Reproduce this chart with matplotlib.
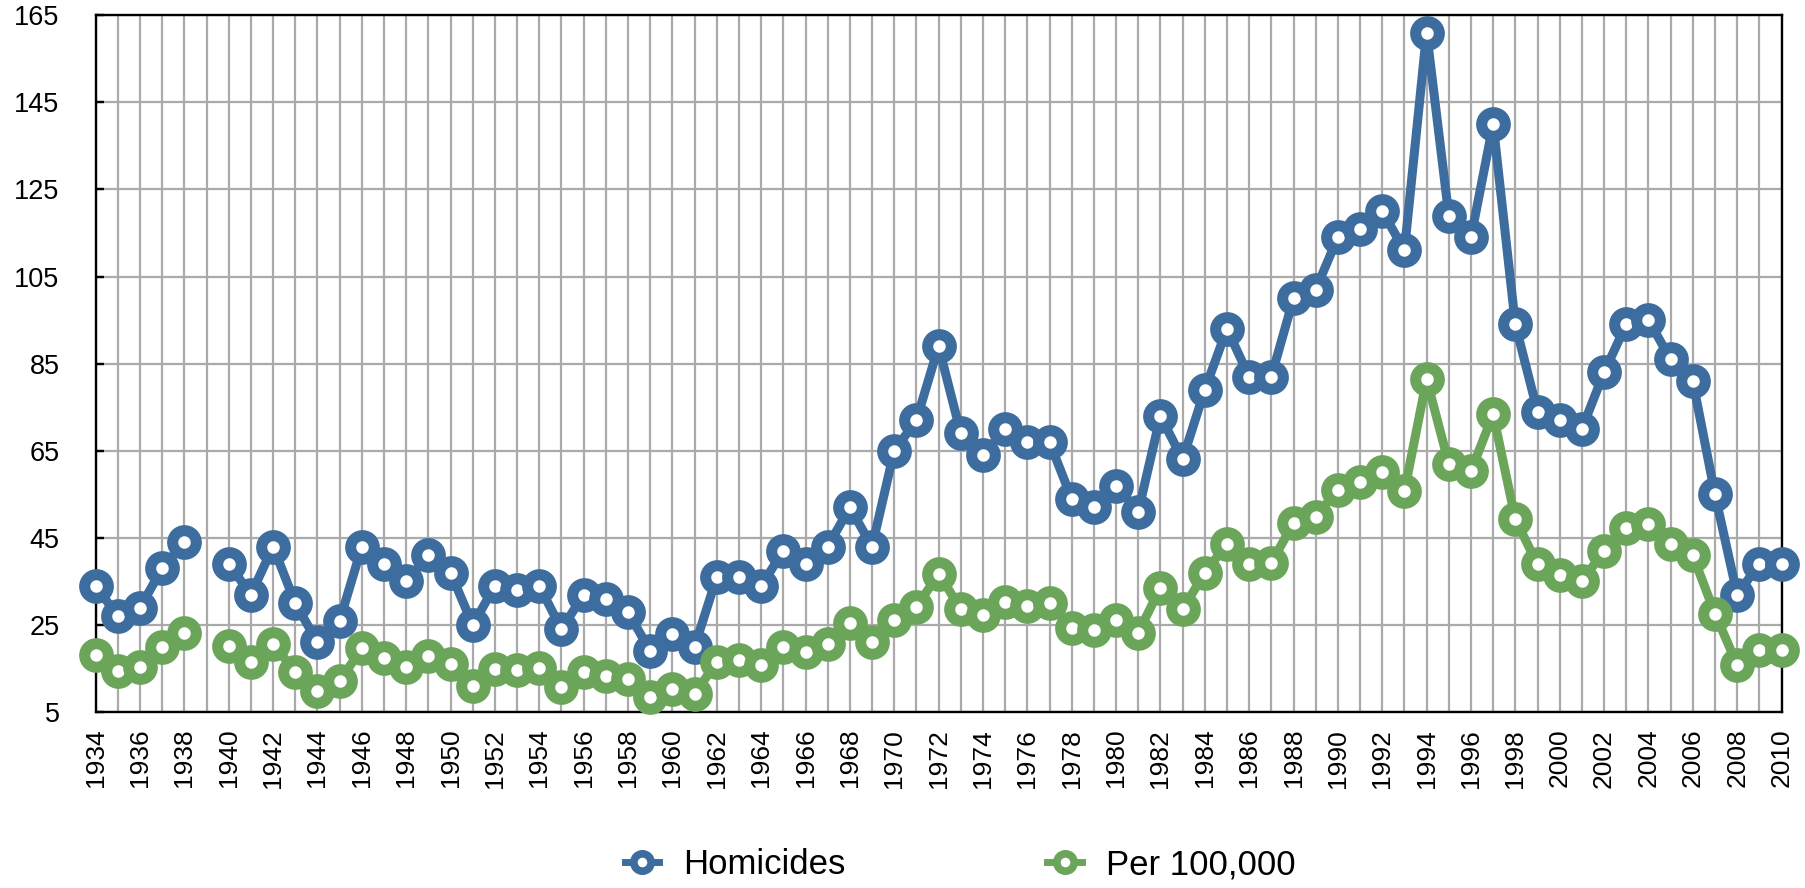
import numpy as np
import matplotlib
matplotlib.use("Agg")
import matplotlib.pyplot as plt
from matplotlib.lines import Line2D

plt.rcParams['font.family'] = ['Liberation Sans', 'DejaVu Sans']

# data (1939 missing)
years = list(range(1934, 2011))
homicides = [34, 27, 29, 38, 44, np.nan, 39, 32, 43, 30,
             21, 26, 43, 39, 35, 41, 37, 25, 34, 33,
             34, 24, 32, 31, 28, 19, 23, 20, 36, 36,
             34, 42, 39, 43, 52, 43, 65, 72, 89, 69,
             64, 70, 67, 67, 54, 52, 57, 51, 73, 63,
             79, 93, 82, 82, 100, 102, 114, 116, 120, 111,
             161, 119, 114, 140, 94, 74, 72, 70, 83, 94,
             95, 86, 81, 55, 32, 39, 39]
per100k = [18.2, 14.4, 15.3, 19.9, 23.2, np.nan, 20.2, 16.5, 20.7, 14.2,
           9.8, 12.1, 19.7, 17.5, 15.3, 18.0, 16.1, 10.9, 14.8, 14.6,
           15.1, 10.7, 14.2, 13.2, 12.7, 8.4, 10.4, 9.2, 16.5, 16.9,
           15.9, 19.9, 18.8, 20.7, 25.4, 21.2, 26.1, 29.1, 36.8, 28.7,
           27.2, 30.3, 29.3, 30.0, 24.3, 23.8, 26.1, 23.2, 33.6, 28.7,
           36.9, 43.7, 39.1, 39.3, 48.4, 49.8, 56.1, 57.8, 60.1, 55.7,
           81.4, 62.0, 60.3, 73.4, 49.3, 38.9, 36.6, 35.2, 41.9, 47.3,
           48.1, 43.5, 41.0, 27.6, 15.9, 19.2, 19.2]
series_names = ["Homicides", "Per 100,000"]
yticks = [5, 25, 45, 65, 85, 105, 125, 145, 165]

blue = "#3d6c9e"
green = "#6ba55a"

fig = plt.figure(figsize=(18.05, 8.88), dpi=100)
ax = fig.add_axes([0.053, 0.198, 0.934, 0.785])

style = dict(lw=6.5, marker="o", ms=17, mew=8, mfc="white", clip_on=False, zorder=3)
ax.plot(years, homicides, color=blue, mec=blue, **style)
ax.plot(years, per100k, color=green, mec=green, **style)

ax.set_xlim(1934, 2010)
ax.set_ylim(5, 165)
ax.set_yticks(yticks)
ax.set_xticks(years)
ax.set_xticklabels([str(y) if y % 2 == 0 else "" for y in years], rotation=90)

ax.grid(True, color="#aaaaaa", lw=1.6)
ax.set_axisbelow(True)
for s in ax.spines.values():
    s.set_linewidth(1.7)
    s.set_color("black")

ax.tick_params(axis="y", direction="in", length=6, width=1.7, pad=26, labelsize=19.5)
ax.tick_params(axis="x", length=0, pad=12, labelsize=19)

# legend proxies
handles = [Line2D([], [], color=c, lw=5, marker="o", ms=12.5, mew=5.5, mfc="white")
           for c in (blue, green)]
fig.legend(handles, series_names, loc="center", bbox_to_anchor=(0.532, 0.026), ncol=2,
           frameon=False, fontsize=25, handlelength=1.0, handletextpad=0.7,
           columnspacing=5.8, borderpad=0)

fig.savefig("out.png", dpi=100)
